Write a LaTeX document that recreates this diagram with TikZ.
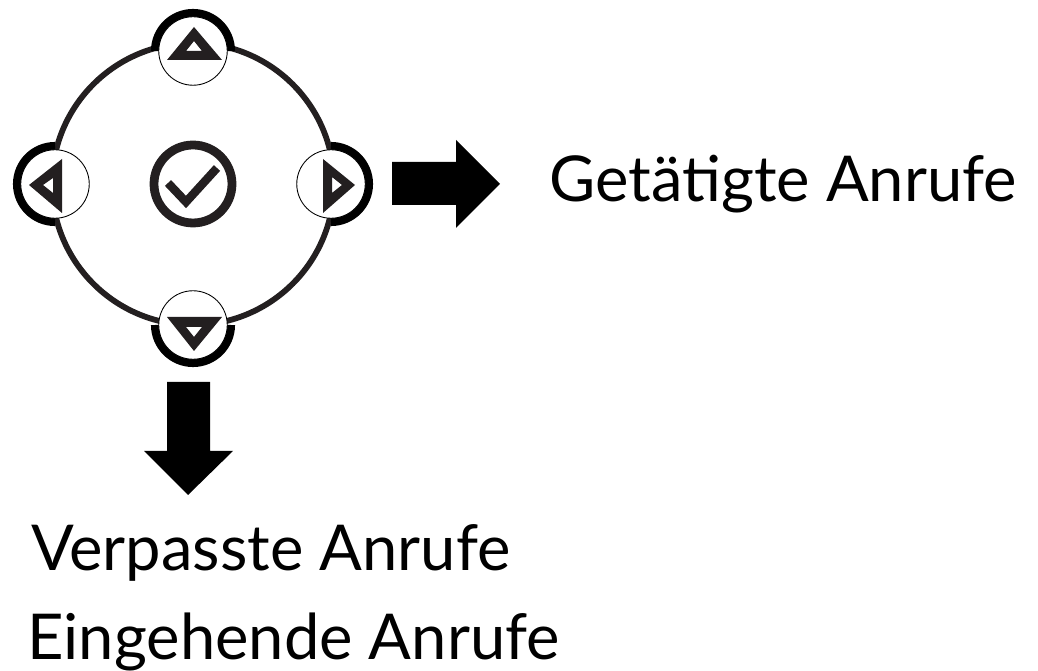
\documentclass[tikz,border=0pt]{standalone}
\usepackage{fontspec}
\setmainfont{Lato}
\usepackage{xcolor}
\usetikzlibrary{positioning}
\definecolor{keyink}{HTML}{231F20}
\tikzset{
    keybtn/.style={circle, draw=black, line width=0.5pt, fill=white, minimum size=1.37cm, inner sep=0pt},
    keyrim/.style={draw=black, line width=4.6pt},
    keytri/.style={fill=keyink, even odd rule},
    keyarrow/.style={fill=black},
    keylabel/.style={font=\fontsize{36}{40}\selectfont, anchor=base west, inner sep=0pt}
}
\begin{document}
\begin{tikzpicture}[x=0.02cm, y=-0.02cm]
    \useasboundingbox (0,0) rectangle (1038,671);

    % outer ring
    \draw[keyink, line width=3.3pt] (193,184) circle (141);

    % rims of the four keys
    \draw[keyrim] (155,51) arc[start angle=180, end angle=0, x radius=38, y radius=-38];
    \draw[keyrim] (55,146) arc[start angle=90, end angle=270, x radius=38, y radius=-38];
    \draw[keyrim] (331,146) arc[start angle=90, end angle=-90, x radius=38, y radius=-38];
    \draw[keyrim] (155,325) arc[start angle=180, end angle=360, x radius=38, y radius=-38];

    \node[keybtn] (btnup) at (193,51) {};
    \node[keybtn] (btnleft) at (55,184) {};
    \node[keybtn] (btnright) at (331,184) {};
    \node[keybtn] (btndown) at (193,325) {};

    % triangles
    \fill[keytri] (167,60) -- (222,60) -- (194,27) -- cycle (186,51) -- (202,51) -- (194,41) -- cycle;
    \fill[keytri] (29,185) -- (62,159) -- (62,213) -- cycle (43,185) -- (53,178) -- (53,193) -- cycle;
    \fill[keytri] (323,159) -- (323,213) -- (355,185) -- cycle (332,177) -- (332,193) -- (342,185) -- cycle;
    \fill[keytri] (167,317) -- (222,317) -- (194,351) -- cycle (186,327) -- (202,327) -- (194,337) -- cycle;

    % middle key
    \node[circle, draw=keyink, line width=5pt, minimum size=1.56cm, inner sep=0pt] (btnok) at (193,184) {};
    \draw[keyink, line width=4.8pt] (168,183) -- (186,202) -- (217,168);

    % arrows
    \fill[keyarrow] (392,162) -- (456,162) -- (456,140) -- (500,184) -- (456,228) -- (456,205) -- (392,205) -- cycle;
    \fill[keyarrow] (167,382) -- (210,382) -- (210,451) -- (233,451) -- (188,495) -- (144,451) -- (167,451) -- cycle;

    \node[keylabel] (lblmade) at (549,202) {Getätigte Anrufe};
    \node[keylabel] (lblmissed) at (31,571) {Verpasste Anrufe};
    \node[keylabel] (lblin) at (27,660) {Eingehende Anrufe};
\end{tikzpicture}
\end{document}
